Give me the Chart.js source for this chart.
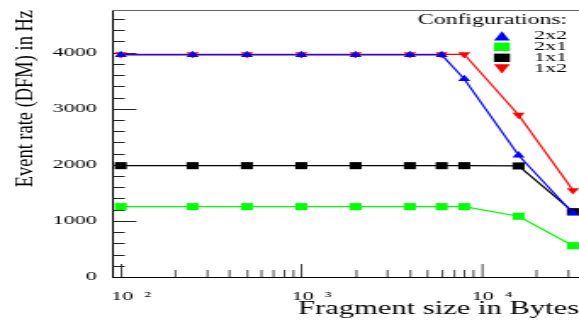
<!DOCTYPE html>
<html>
<head>
<meta charset="utf-8">
<script src="https://cdn.jsdelivr.net/npm/chart.js@4/dist/chart.umd.min.js"></script>
<style>
  html, body { margin: 0; padding: 0; background: #fff; overflow: hidden; }
  #rateChart { display: block; transform: scaleX(1.698); transform-origin: 0 0; }
</style>
</head>
<body>
<canvas id="rateChart" width="341" height="320"></canvas>
<script>
// fragment sizes (Bytes) and event rates (Hz)
const fragSizes = [100, 250, 500, 1000, 2000, 4000, 6000, 8000, 16000, 32000];
const rate2x2 = [3960, 3960, 3960, 3960, 3960, 3960, 3960, 3530, 2170, 1136];
const rate2x1 = [1254, 1254, 1254, 1254, 1254, 1254, 1254, 1254, 1083, 558];
const rate1x1 = [1985, 1985, 1985, 1985, 1985, 1985, 1985, 1985, 1980, 1165];
const rate1x2 = [3970, 3970, 3970, 3970, 3970, 3970, 3970, 3970, 2889, 1546];

const configNames = ['2x2', '2x1', '1x1', '1x2'];
const xTickValues = [100, 1000, 10000];
const xTickLabels = ['10  ²', '10  ³', '10  ⁴'];
const yTickValues = [0, 1000, 2000, 3000, 4000];
const yTickLabels = ['0', '1000', '2000', '3000', '4000'];
const yMinorStep = 200;

const STRETCH = 1.698; // the original picture is stretched sideways
const FONT = "'Liberation Serif', 'Times New Roman', serif";
Chart.defaults.font.family = FONT;
Chart.defaults.color = '#000';

function pts(vals) {
    return vals.map((v, i) => ({x: fragSizes[i], y: v}));
}

function series(label, vals, color, style, rot, r) {
    return {
        label: label,
        data: pts(vals),
        borderColor: color,
        backgroundColor: color,
        borderWidth: 1.2,
        pointStyle: style,
        pointRotation: rot,
        pointRadius: r,
        pointBorderWidth: 0,
        pointBackgroundColor: color,
        tension: 0
    };
}

// snap a vertical line to a whole screen pixel after the stretch
function snapX(px) {
    return (Math.round(px * STRETCH) + 0.5) / STRETCH;
}

// ROOT style inner ticks, top frame, legend and y title
const rootFrame = {
    id: 'rootFrame',
    beforeDatasetsDraw(chart) {
        const {ctx, chartArea: a, scales: {x, y}} = chart;
        ctx.save();
        ctx.strokeStyle = '#000';
        ctx.lineWidth = 1.25 / STRETCH;
        ctx.beginPath();
        x.ticks.forEach(t => {
            const v = t.value;
            if (v <= x.min || v >= x.max) return;
            const sig = v / Math.pow(10, Math.floor(Math.log10(v) + 1e-9));
            if (Math.abs(sig - Math.round(sig)) > 1e-6) return;
            const px = snapX(x.getPixelForValue(v));
            const len = Math.round(sig) === 1 ? 13 : 7;
            ctx.moveTo(px, a.bottom);
            ctx.lineTo(px, a.bottom - len);
        });
        ctx.stroke();
        ctx.lineWidth = 1;
        ctx.strokeStyle = '#222';
        ctx.beginPath();
        y.ticks.forEach(t => {
            const v = t.value;
            if (v <= y.min || v >= y.max) return;
            const py = Math.round(y.getPixelForValue(v)) + 0.5;
            const len = v % 1000 === 0 ? 14.3 : 7.5;
            ctx.moveTo(a.left, py);
            ctx.lineTo(a.left + len, py);
        });
        ctx.stroke();
        ctx.strokeStyle = '#666';
        ctx.beginPath();
        ctx.moveTo(a.left, a.top + 0.5);
        ctx.lineTo(a.right, a.top + 0.5);
        ctx.stroke();
        ctx.restore();
    },
    afterDraw(chart) {
        const {ctx} = chart;
        ctx.save();
        // legend
        ctx.fillStyle = '#000';
        ctx.textAlign = 'right';
        ctx.textBaseline = 'middle';
        ctx.font = '14px ' + FONT;
        ctx.fillText('Configurations:', 334, 20);
        ctx.font = '13px ' + FONT;
        const cx = 295.6, hw = 4.7, hh = 4.6;
        chart.data.datasets.forEach((ds, i) => {
            const cy = 35.8 + i * 11;
            ctx.fillStyle = ds.backgroundColor;
            ctx.beginPath();
            if (ds.pointStyle === 'triangle') {
                const up = ds.pointRotation === 0;
                ctx.moveTo(cx - hw, up ? cy + hh : cy - hh);
                ctx.lineTo(cx + hw, up ? cy + hh : cy - hh);
                ctx.lineTo(cx, up ? cy - hh : cy + hh);
                ctx.closePath();
            } else {
                ctx.rect(cx - hw, cy - hh + 0.4, 2 * hw, 2 * hh - 0.8);
            }
            ctx.fill();
            ctx.fillStyle = '#000';
            ctx.fillText(ds.label, 334, 35.5 + i * 11);
        });
        // y axis title, squeezed like the original
        const yt = chart.options.scales.y.title.text;
        ctx.translate(15.2, 10);
        ctx.rotate(-Math.PI / 2);
        ctx.scale(1.23, 1);
        ctx.font = '15px ' + FONT;
        ctx.textAlign = 'right';
        ctx.fillText(yt, 0, 0);
        ctx.restore();
    }
};

new Chart(document.getElementById('rateChart'), {
    type: 'line',
    data: {
        datasets: [
            series(configNames[0], rate2x2, '#0000ff', 'triangle', 0, 4.2),
            series(configNames[1], rate2x1, '#00ff00', 'rect', 0, 5),
            series(configNames[2], rate1x1, '#000000', 'rect', 0, 5),
            series(configNames[3], rate1x2, '#ff0000', 'triangle', 180, 4.2)
        ]
    },
    options: {
        responsive: false,
        animation: false,
        events: [],
        layout: {
            autoPadding: false,
            padding: { top: 10, left: 0, right: 0, bottom: 0 }
        },
        plugins: {
            legend: { display: false },
            tooltip: { enabled: false }
        },
        scales: {
            x: {
                type: 'logarithmic',
                min: 89.5,
                max: 34600,
                grid: { display: false, drawTicks: false },
                border: { display: true, color: '#000', width: 1 },
                ticks: {
                    autoSkip: false,
                    maxRotation: 0,
                    padding: 12,
                    labelOffset: 6,
                    font: { size: 13 },
                    callback: function(value) {
                        const k = xTickValues.indexOf(value);
                        return k >= 0 ? xTickLabels[k] : '';
                    }
                },
                title: {
                    display: true,
                    text: 'Fragment size in Bytes',
                    align: 'end',
                    font: { size: 18 },
                    padding: { top: 0, bottom: 0 }
                },
                afterFit: function(scale) {
                    scale.height = 43;
                    scale.paddingLeft = 0;
                    scale.paddingRight = 0;
                }
            },
            y: {
                type: 'linear',
                min: 0,
                max: 4760,
                grid: { display: false, drawTicks: false },
                border: { display: true, color: '#000', width: 1 },
                ticks: {
                    autoSkip: false,
                    padding: 9,
                    font: { size: 13 },
                    callback: function(value) {
                        const k = yTickValues.indexOf(value);
                        return k >= 0 ? yTickLabels[k] : '';
                    }
                },
                afterBuildTicks: function(scale) {
                    const ticks = [];
                    for (let v = 0; v < scale.max; v += yMinorStep) ticks.push({value: v});
                    scale.ticks = ticks;
                },
                title: { display: false, text: 'Event rate (DFM) in Hz' },
                afterFit: function(scale) {
                    scale.width = 66;
                    scale.paddingTop = 0;
                    scale.paddingBottom = 0;
                }
            }
        }
    },
    plugins: [rootFrame]
});
</script>
</body>
</html>
